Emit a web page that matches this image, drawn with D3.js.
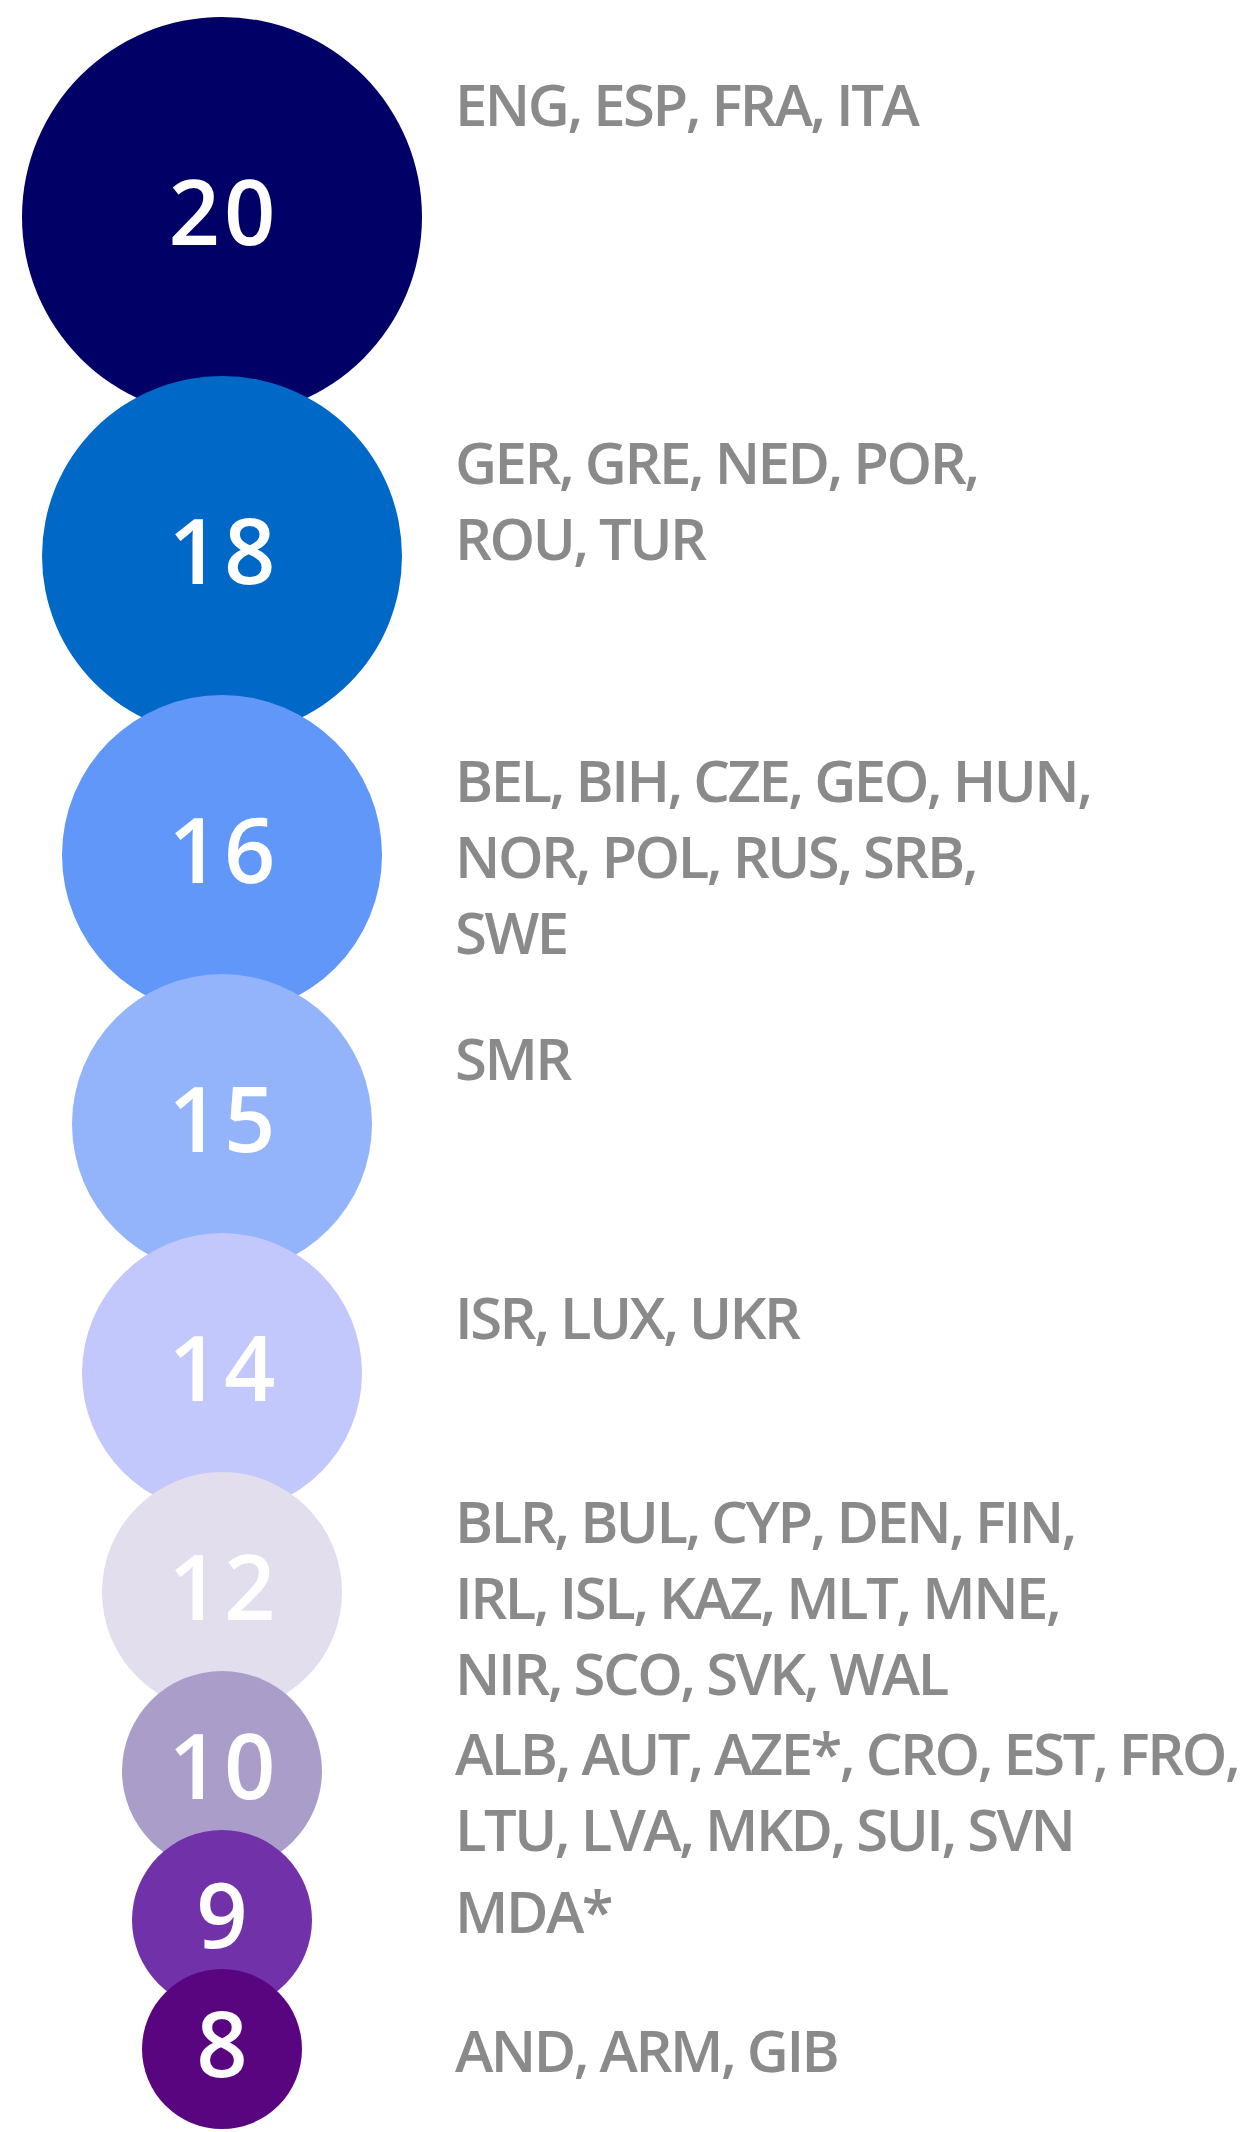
<!DOCTYPE html>
<html>
<head>
<meta charset="utf-8">
<script src="https://cdn.jsdelivr.net/npm/d3@7"></script>
<style>
  html, body { margin: 0; padding: 0; background: #ffffff; }
  svg { display: block; }
</style>
</head>
<body>
<div id="chart"></div>
<script>
// ---- data ----
const values = [20, 18, 16, 15, 14, 12, 10, 9, 8];
const valueLabels = ["20", "18", "16", "15", "14", "12", "10", "9", "8"];
const colors = ["#000066", "#0068c6", "#6097f8", "#93b3fb", "#c2c7fc", "#e2deee", "#ab9dc9", "#7131a9", "#5a0580"];
const countryLines = [
  ["ENG, ESP, FRA, ITA"],
  ["GER, GRE, NED, POR,", "ROU, TUR"],
  ["BEL, BIH, CZE, GEO, HUN,", "NOR, POL, RUS, SRB,", "SWE"],
  ["SMR"],
  ["ISR, LUX, UKR"],
  ["BLR, BUL, CYP, DEN, FIN,", "IRL, ISL, KAZ, MLT, MNE,", "NIR, SCO, SVK, WAL"],
  ["ALB, AUT, AZE*, CRO, EST, FRO,", "LTU, LVA, MKD, SUI, SVN"],
  ["MDA*"],
  ["AND, ARM, GIB"]
];

// ---- layout ----
const W = 1249, H = 2132;
const cx = 222;
const topMargin = 17;
const overlap = 41;
const textX = 455;
const lineH = 76;
const minGap = 80;

const rScale = d3.scaleLinear().domain([0, 20]).range([0, 200]);

const nodes = values.map((v, i) => ({ v, label: valueLabels[i], color: colors[i], lines: countryLines[i], r: rScale(v) }));
// stack circles vertically, each overlapping the previous one
nodes.forEach((d, i) => {
  d.cy = i === 0 ? topMargin + d.r : nodes[i - 1].cy + nodes[i - 1].r + d.r - overlap;
});
// first text line centre relative to the circle, then resolve collisions bottom-up
nodes.forEach(d => { d.t = d.cy - 0.95 * (d.r - 80); });
for (let i = nodes.length - 2; i >= 0; i--) {
  const d = nodes[i], next = nodes[i + 1];
  const last = d.t + (d.lines.length - 1) * lineH;
  const limit = next.t - minGap;
  if (last > limit) d.t -= (last - limit);
}

const svg = d3.select("#chart").append("svg")
  .attr("width", W).attr("height", H)
  .attr("viewBox", `0 0 ${W} ${H}`);

const g = svg.selectAll("g.bubble").data(nodes).join("g").attr("class", "bubble");

g.append("circle")
  .attr("cx", cx)
  .attr("cy", d => d.cy)
  .attr("r", d => d.r)
  .attr("fill", d => d.color);

g.append("text")
  .attr("x", cx + 2)
  .attr("y", d => d.cy - 7)
  .attr("text-anchor", "middle")
  .attr("dominant-baseline", "central")
  .attr("font-family", "'Open Sans', Lato, sans-serif")
  .attr("font-weight", 600)
  .attr("font-size", 90)
  .attr("letter-spacing", 4)
  .attr("fill", "#ffffff")
  .text(d => d.label);

const labels = svg.selectAll("text.countries").data(nodes).join("text")
  .attr("class", "countries")
  .attr("font-family", "'Open Sans', Lato, sans-serif")
  .attr("font-weight", 600)
  .attr("font-size", 58)
  .attr("letter-spacing", -2.5)
  .attr("fill", "#8a8a8a");

labels.selectAll("tspan").data(d => d.lines.map((l, k) => ({ l, y: d.t + k * lineH }))).join("tspan")
  .attr("x", textX)
  .attr("y", d => d.y)
  .attr("dominant-baseline", "central")
  .text(d => d.l);
</script>
</body>
</html>
